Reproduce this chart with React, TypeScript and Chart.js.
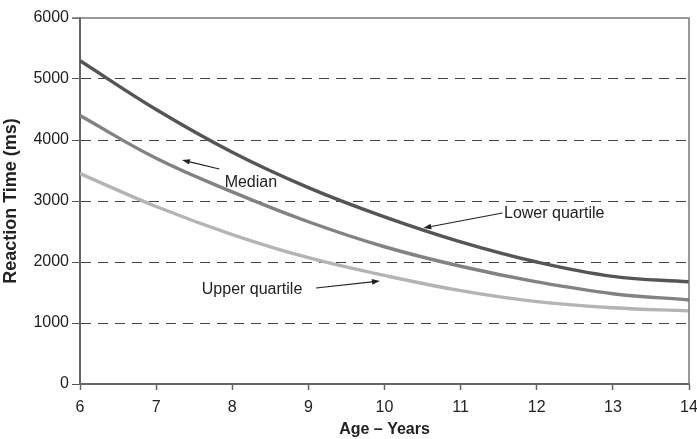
import React, { useEffect, useRef } from "react";
import { Chart, registerables } from "chart.js";

Chart.register(...registerables);

const ages = [6, 7, 8, 9, 10, 11, 12, 13, 14];
const lowerQuartile = [5300, 4500, 3800, 3220, 2740, 2330, 2000, 1765, 1675];
const median = [4400, 3700, 3150, 2660, 2250, 1930, 1675, 1480, 1378];
const upperQuartile = [3450, 2910, 2450, 2070, 1780, 1530, 1350, 1250, 1198];

const seriesNames = ["Lower quartile", "Median", "Upper quartile"];
const seriesColors = ["#555555", "#828282", "#b4b4b4"];

// annotation labels: [text, age, value] and arrows: [fromAge, fromVal, toAge, toVal]
const labelTexts = ["Median", "Lower quartile", "Upper quartile"];
const labelAges = [7.9, 11.57, 7.6];
const labelValues = [3295, 2787, 1541];
const arrowFromAges = [7.83, 11.55, 9.1];
const arrowFromValues = [3525, 2803, 1574];
const arrowToAges = [7.34, 10.51, 9.94];
const arrowToValues = [3672, 2557, 1689];

const FONT = "'Liberation Sans', Arial, Helvetica, sans-serif";

const annotationPlugin = {
  id: "annots",
  afterDatasetsDraw(chart: any) {
    const { ctx, chartArea, scales } = chart;
    const xs = scales.x;
    const ys = scales.y;
    ctx.save();
    // top and right frame
    ctx.strokeStyle = "#777";
    ctx.lineWidth = 1.5;
    ctx.beginPath();
    ctx.moveTo(chartArea.left - 8, chartArea.top);
    ctx.lineTo(chartArea.right, chartArea.top);
    ctx.lineTo(chartArea.right, chartArea.bottom);
    ctx.stroke();

    ctx.fillStyle = "#222";
    ctx.font = `16px ${FONT}`;
    ctx.textAlign = "left";
    ctx.textBaseline = "middle";
    for (let i = 0; i < labelTexts.length; i++) {
      ctx.fillText(labelTexts[i], xs.getPixelForValue(labelAges[i]), ys.getPixelForValue(labelValues[i]));
    }
    ctx.strokeStyle = "#222";
    ctx.lineWidth = 1.2;
    for (let i = 0; i < arrowFromAges.length; i++) {
      const x1 = xs.getPixelForValue(arrowFromAges[i]);
      const y1 = ys.getPixelForValue(arrowFromValues[i]);
      const x2 = xs.getPixelForValue(arrowToAges[i]);
      const y2 = ys.getPixelForValue(arrowToValues[i]);
      const ang = Math.atan2(y2 - y1, x2 - x1);
      const hl = 8;
      const hw = 2.8;
      const bx = x2 - hl * Math.cos(ang);
      const by = y2 - hl * Math.sin(ang);
      ctx.beginPath();
      ctx.moveTo(x1, y1);
      ctx.lineTo(bx, by);
      ctx.stroke();
      ctx.beginPath();
      ctx.moveTo(x2, y2);
      ctx.lineTo(bx + hw * Math.sin(ang), by - hw * Math.cos(ang));
      ctx.lineTo(bx - hw * Math.sin(ang), by + hw * Math.cos(ang));
      ctx.closePath();
      ctx.fill();
    }
    ctx.restore();
  },
};

export default function App() {
  const canvasRef = useRef<HTMLCanvasElement | null>(null);

  useEffect(() => {
    const canvas = canvasRef.current;
    if (!canvas) return;
    const allSeries = [lowerQuartile, median, upperQuartile];
    const chart = new Chart(canvas, {
      type: "line",
      data: {
        datasets: allSeries.map((vals, si) => ({
          label: seriesNames[si],
          data: ages.map((a, i) => ({ x: a, y: vals[i] })),
          borderColor: seriesColors[si],
          backgroundColor: seriesColors[si],
          borderWidth: 3.4,
          pointRadius: 0,
          tension: 0.4,
          fill: false,
        })),
      },
      options: {
        animation: false,
        responsive: true,
        maintainAspectRatio: false,
        layout: { padding: { top: 18, right: 8, left: 0, bottom: 0 } },
        plugins: {
          legend: { display: false },
          tooltip: { enabled: false },
        },
        scales: {
          x: {
            type: "linear",
            min: 6,
            max: 14,
            ticks: {
              stepSize: 1,
              color: "#222",
              font: { family: FONT, size: 16 },
              padding: 8,
              maxRotation: 0,
            },
            grid: {
              drawOnChartArea: false,
              drawTicks: true,
              tickLength: 6,
              tickColor: "#666",
              tickWidth: 1.5,
            },
            border: { color: "#666", width: 2 },
            title: {
              display: true,
              text: "Age \u2013 Years",
              color: "#222",
              font: { family: FONT, size: 16, weight: "bold" },
              padding: { top: 0, bottom: 0 },
            },
            afterFit: (scale: any) => {
              scale.height = 55;
              scale.paddingLeft = 0;
              scale.paddingRight = 0;
            },
          },
          y: {
            min: 0,
            max: 6000,
            ticks: {
              stepSize: 1000,
              color: "#222",
              font: { family: FONT, size: 16 },
              padding: 3,
              callback: (v: any) => String(v),
            },
            grid: {
              color: (ctx: any) =>
                ctx.tick && (ctx.tick.value === 0 || ctx.tick.value === 6000) ? "rgba(0,0,0,0)" : "#444",
              lineWidth: 1,
              drawTicks: true,
              tickLength: 8,
              tickColor: "#555",
              tickWidth: 1,
            },
            border: { color: "#666", width: 2, dash: [10, 7] },
            title: {
              display: true,
              text: "Reaction Time (ms)",
              color: "#222",
              font: { family: FONT, size: 18, weight: "bold" },
              padding: { top: 0, bottom: 2 },
            },
            afterFit: (scale: any) => {
              scale.width = 80;
              scale.paddingTop = 0;
              scale.paddingBottom = 0;
            },
          },
        },
      },
      plugins: [annotationPlugin],
    });
    return () => chart.destroy();
  }, []);

  return (
    <div style={{ position: "fixed", left: 0, top: 0, width: 697, height: 439, background: "#fff" }}>
      <canvas ref={canvasRef} />
    </div>
  );
}
